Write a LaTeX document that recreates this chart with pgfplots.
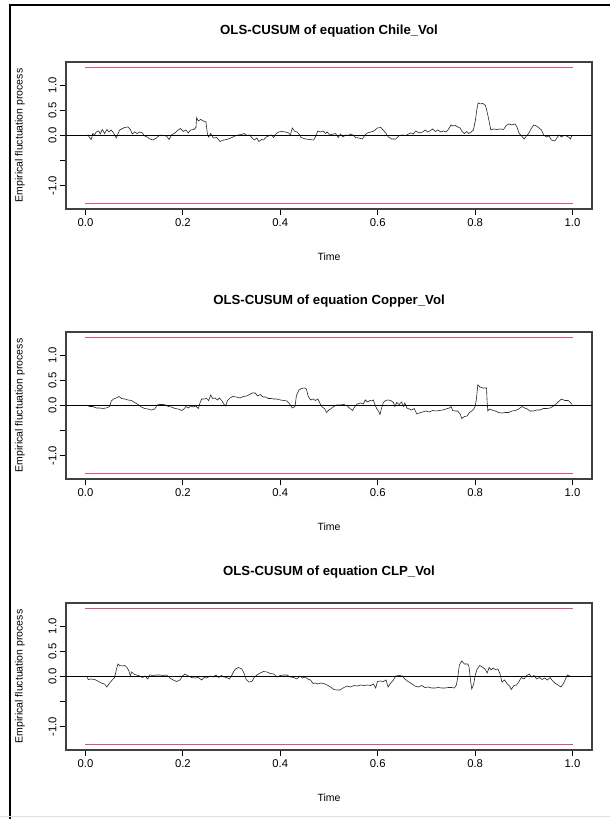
\documentclass[border=0pt]{standalone}
\usepackage{fontspec}
\setmainfont{Liberation Sans}
\usepackage{pgfplots}
\pgfplotsset{compat=1.18}
\definecolor{rred}{RGB}{223,83,107}

\pgfplotsset{cusum/.style={
  scale only axis, width=526pt, height=147pt, anchor=south west,
  xmin=-0.04, xmax=1.04, ymin=-1.467, ymax=1.467,
  xtick={0,0.2,0.4,0.6,0.8,1}, xticklabels={0.0,0.2,0.4,0.6,0.8,1.0},
  ytick={-1,-0.5,0,0.5,1}, yticklabels={-1.0,,0.0,0.5,1.0},
  tick align=outside, tick pos=left, major tick length=6pt,
  axis line style={draw=black!75, line width=1.1pt},
  every tick/.style={black, line width=0.8pt},
  tick label style={font=\fontsize{11.3}{13}\selectfont},
  yticklabel style={rotate=90, anchor=south},
  title style={at={(axis description cs:0.5,1.17)}, anchor=center,
    font=\bfseries\fontsize{13.2}{15}\selectfont},
  xlabel={Time}, ylabel={Empirical fluctuation process},
  xlabel style={at={(axis description cs:0.5,-0.3265)}, anchor=center,
    font=\fontsize{10.5}{12}\selectfont},
  ylabel style={at={(axis description cs:-0.0875,0.5)}, anchor=center,
    font=\fontsize{10.5}{12}\selectfont},
  bound/.style={rred, line width=1.7pt},
  /pgf/number format/assume math mode=true,
}}

\begin{document}
\begin{tikzpicture}
\path[use as bounding box] (0pt,0pt) rectangle (610pt,819pt);
\draw[black, line width=2pt] (10pt,0pt) -- (10pt,814pt) -- (610pt,814pt);
\draw[black!12, line width=1pt] (0pt,2.5pt) -- (610pt,2.5pt);

% panel 1
\begin{axis}[cusum, at={(66pt,610pt)}, title={OLS-CUSUM of equation Chile\_Vol}]
\addplot[black!85, line width=0.6pt] coordinates {
(0.0048,0.02)(0.0082,-0.04)(0.0117,-0.08)(0.0151,0.04)(0.0186,0.01)(0.0220,0.07)(0.0275,0.09)(0.0302,0.03)(0.0344,0.12)(0.0392,0.04)
(0.0440,0.12)(0.0481,0.07)(0.0529,0.11)(0.0577,0.05)(0.0632,-0.05)(0.0701,0.11)(0.0804,0.16)(0.0873,0.17)(0.0921,0.12)(0.0962,0.03)
(0.1010,0.07)(0.1058,0.04)(0.1113,0.07)(0.1168,0.05)(0.1216,-0.01)(0.1265,-0.03)(0.1320,-0.07)(0.1388,-0.09)(0.1457,-0.05)(0.1526,0.01)
(0.1595,0)(0.1663,-0.01)(0.1718,-0.08)(0.1766,0.01)(0.1835,0.05)(0.1904,0.11)(0.1952,0.14)(0.2007,0.08)(0.2062,0.11)(0.2110,0.05)
(0.2158,0.11)(0.2227,0.12)(0.2268,0.16)(0.2282,0.36)(0.2316,0.29)(0.2364,0.32)(0.2419,0.29)(0.2474,0.27)(0.2502,0.04)(0.2529,-0.03)
(0.2570,0.04)(0.2625,-0.05)(0.2694,-0.04)(0.2763,-0.12)(0.2832,-0.09)(0.2900,-0.08)(0.2983,-0.05)(0.3072,-0.01)(0.3141,0.01)(0.3210,0.02)
(0.3258,0.04)(0.3313,0)(0.3368,0.01)(0.3416,-0.04)(0.3464,-0.09)(0.3519,-0.05)(0.3560,-0.12)(0.3615,-0.08)(0.3656,-0.09)(0.3711,-0.03)
(0.3759,-0.01)(0.3821,0.01)(0.3863,-0.04)(0.3918,0.04)(0.3966,0.07)(0.4034,0.08)(0.4103,0.07)(0.4172,0.05)(0.4206,0.01)(0.4247,0.15)
(0.4289,0.09)(0.4344,0.07)(0.4399,0.01)(0.4426,-0.04)(0.4515,-0.07)(0.4605,-0.08)(0.4687,-0.09)(0.4722,-0.03)(0.4770,0.09)(0.4825,0.07)
(0.4880,0.09)(0.4928,0.04)(0.4962,0.07)(0.5017,0.01)(0.5134,0.04)(0.5189,-0.04)(0.5237,0.03)(0.5285,-0.03)(0.5340,0.01)(0.5395,0)
(0.5443,0.03)(0.5491,0.01)(0.5546,-0.04)(0.5615,-0.05)(0.5684,-0.07)(0.5739,0.01)(0.5787,0.05)(0.5856,0.07)(0.5924,0.09)(0.5993,0.15)
(0.6062,0.16)(0.6110,0.11)(0.6165,0.05)(0.6220,-0.03)(0.6289,-0.07)(0.6371,-0.07)(0.6440,0)(0.6509,0.01)(0.6577,0)(0.6632,0.03)
(0.6680,0.05)(0.6729,0.03)(0.6784,0.09)(0.6852,0.05)(0.6921,0.07)(0.6976,0.11)(0.7024,0.07)(0.7072,0.09)(0.7127,0.13)(0.7182,0.08)
(0.7230,0.11)(0.7299,0.07)(0.7347,0.09)(0.7402,0.07)(0.7457,0.13)(0.7505,0.21)(0.7540,0.19)(0.7595,0.20)(0.7643,0.17)(0.7691,0.15)
(0.7732,0.08)(0.7780,0.04)(0.7828,0.08)(0.7869,0.04)(0.7918,0.07)(0.7966,0.11)(0.8007,0.31)(0.8034,0.51)(0.8062,0.65)(0.8103,0.63)
(0.8158,0.64)(0.8213,0.60)(0.8254,0.44)(0.8296,0.24)(0.8323,0.11)(0.8378,0.13)(0.8447,0.12)(0.8515,0.13)(0.8584,0.12)(0.8639,0.20)
(0.8694,0.23)(0.8749,0.21)(0.8818,0.23)(0.8859,0.17)(0.8900,0.05)(0.8955,-0.01)(0.9010,-0.07)(0.9052,-0.01)(0.9107,0.05)(0.9148,0.13)
(0.9203,0.21)(0.9258,0.19)(0.9313,0.15)(0.9361,0.11)(0.9409,0.01)(0.9464,-0.03)(0.9519,-0.01)(0.9567,-0.09)(0.9636,-0.11)(0.9684,-0.04)
(0.9725,0.01)(0.9773,-0.03)(0.9821,0)(0.9876,-0.01)(0.9931,-0.04)(0.9959,-0.07)(0.9986,0)
};
\addplot[black, line width=0.9pt] coordinates {(-0.04,0)(1.04,0)};
\addplot[bound] coordinates {(0,1.358)(1,1.358)};
\addplot[bound] coordinates {(0,-1.358)(1,-1.358)};
\end{axis}

% panel 2
\begin{axis}[cusum, at={(66pt,340pt)}, title={OLS-CUSUM of equation Copper\_Vol}]
\addplot[black!85, line width=0.6pt] coordinates {
(0.0027,0.01)(0.0082,-0.02)(0.0151,-0.02)(0.0220,-0.05)(0.0289,-0.05)(0.0357,-0.06)(0.0426,-0.05)(0.0495,-0.02)(0.0529,0.09)(0.0577,0.13)
(0.0632,0.15)(0.0687,0.18)(0.0742,0.14)(0.0804,0.13)(0.0873,0.11)(0.0942,0.10)(0.1010,0.06)(0.1079,0.02)(0.1148,-0.03)(0.1216,-0.06)
(0.1285,-0.07)(0.1354,-0.09)(0.1423,-0.07)(0.1471,0.01)(0.1526,0.02)(0.1595,0.02)(0.1650,0.01)(0.1698,-0.02)(0.1766,-0.03)(0.1835,-0.06)
(0.1904,-0.07)(0.1973,-0.10)(0.2021,-0.07)(0.2062,-0.02)(0.2110,-0.05)(0.2158,-0.01)(0.2213,-0.03)(0.2268,-0.01)(0.2316,-0.06)(0.2351,0.05)
(0.2385,0.13)(0.2433,0.13)(0.2488,0.14)(0.2529,0.10)(0.2570,0.21)(0.2612,0.14)(0.2660,0.15)(0.2708,0.11)(0.2749,0.15)(0.2797,0.10)
(0.2845,0.02)(0.2880,-0.01)(0.2914,0.10)(0.2969,0.15)(0.3024,0.18)(0.3093,0.17)(0.3175,0.15)(0.3244,0.18)(0.3313,0.19)(0.3368,0.22)
(0.3423,0.25)(0.3485,0.25)(0.3533,0.19)(0.3588,0.22)(0.3643,0.17)(0.3698,0.17)(0.3753,0.14)(0.3808,0.14)(0.3863,0.13)(0.3931,0.13)
(0.4000,0.11)(0.4069,0.10)(0.4137,0.09)(0.4192,0.03)(0.4247,-0.05)(0.4302,-0.02)(0.4330,0.19)(0.4378,0.30)(0.4426,0.34)(0.4495,0.35)
(0.4536,0.33)(0.4570,0.19)(0.4619,0.11)(0.4674,0.13)(0.4722,0.10)(0.4770,0.13)(0.4811,0.05)(0.4859,-0.03)(0.4907,-0.06)(0.4948,-0.14)
(0.4997,-0.09)(0.5045,-0.06)(0.5100,-0.02)(0.5155,0.01)(0.5223,0.01)(0.5306,0.02)(0.5375,-0.01)(0.5430,-0.06)(0.5484,-0.10)(0.5526,-0.03)
(0.5581,0.03)(0.5649,0.05)(0.5704,0.03)(0.5746,0.11)(0.5787,0.07)(0.5842,0.10)(0.5883,0.09)(0.5911,0.11)(0.5938,0.03)(0.5979,-0.06)
(0.6014,-0.11)(0.6048,-0.18)(0.6076,-0.06)(0.6117,0.06)(0.6165,0.10)(0.6213,0.11)(0.6268,0.10)(0.6323,0.06)(0.6351,-0.02)(0.6392,0.06)
(0.6440,0.02)(0.6488,0.07)(0.6529,-0.02)(0.6557,0.05)(0.6598,-0.05)(0.6646,-0.07)(0.6694,-0.09)(0.6749,-0.06)(0.6804,-0.17)(0.6852,-0.15)
(0.6921,-0.13)(0.6990,-0.11)(0.7058,-0.13)(0.7127,-0.10)(0.7196,-0.11)(0.7265,-0.10)(0.7333,-0.09)(0.7402,-0.07)(0.7471,-0.05)(0.7505,-0.02)
(0.7540,-0.10)(0.7588,-0.11)(0.7643,-0.11)(0.7698,-0.18)(0.7725,-0.26)(0.7780,-0.22)(0.7835,-0.21)(0.7883,-0.14)(0.7931,-0.11)(0.7972,-0.07)
(0.8000,-0.02)(0.8027,0.13)(0.8055,0.41)(0.8096,0.37)(0.8158,0.35)(0.8234,0.35)(0.8247,0.07)(0.8261,-0.11)(0.8289,-0.07)(0.8344,-0.09)
(0.8412,-0.11)(0.8481,-0.14)(0.8550,-0.15)(0.8619,-0.14)(0.8687,-0.14)(0.8756,-0.11)(0.8825,-0.10)(0.8893,-0.07)(0.8962,-0.02)(0.9017,-0.05)
(0.9072,-0.07)(0.9127,-0.11)(0.9196,-0.11)(0.9265,-0.09)(0.9333,-0.09)(0.9402,-0.06)(0.9471,-0.06)(0.9540,-0.05)(0.9595,-0.02)(0.9650,0.02)
(0.9705,0.07)(0.9773,0.13)(0.9842,0.10)(0.9911,0.10)(0.9966,0.05)(0.9993,0.02)
};
\addplot[black, line width=0.9pt] coordinates {(-0.04,0)(1.04,0)};
\addplot[bound] coordinates {(0,1.358)(1,1.358)};
\addplot[bound] coordinates {(0,-1.358)(1,-1.358)};
\end{axis}

% panel 3
\begin{axis}[cusum, at={(66pt,69pt)}, title={OLS-CUSUM of equation CLP\_Vol}]
\addplot[black!85, line width=0.6pt] coordinates {
(0.0027,0.01)(0.0055,-0.06)(0.0117,-0.05)(0.0186,-0.06)(0.0254,-0.09)(0.0323,-0.13)(0.0392,-0.15)(0.0440,-0.21)(0.0495,-0.13)(0.0550,-0.07)
(0.0598,-0.02)(0.0632,0.13)(0.0667,0.25)(0.0701,0.22)(0.0756,0.21)(0.0811,0.22)(0.0852,0.18)(0.0893,0.11)(0.0921,0.01)(0.0948,0.09)
(0.0990,0.05)(0.1045,0.03)(0.1113,0.01)(0.1168,-0.02)(0.1223,0.01)(0.1278,-0.05)(0.1320,0.03)(0.1388,0.02)(0.1457,0.03)(0.1526,0.03)
(0.1595,0.02)(0.1663,0.03)(0.1732,-0.03)(0.1801,-0.07)(0.1869,-0.10)(0.1938,-0.07)(0.1993,0.01)(0.2041,0.05)(0.2110,0.01)(0.2179,-0.02)
(0.2247,-0.03)(0.2316,-0.02)(0.2385,-0.07)(0.2433,-0.02)(0.2488,-0.03)(0.2557,0.01)(0.2625,-0.01)(0.2680,0.03)(0.2735,-0.02)(0.2790,0.02)
(0.2845,-0.01)(0.2900,-0.02)(0.2955,-0.05)(0.2997,0.01)(0.3038,0.09)(0.3079,0.15)(0.3141,0.18)(0.3210,0.15)(0.3258,0.06)(0.3299,-0.06)
(0.3354,-0.11)(0.3416,-0.10)(0.3464,-0.02)(0.3519,0.03)(0.3588,0.07)(0.3656,0.10)(0.3725,0.09)(0.3794,0.06)(0.3863,0.05)(0.3931,-0.01)
(0.4000,0.02)(0.4069,0.03)(0.4137,0.03)(0.4206,-0.01)(0.4275,-0.02)(0.4344,-0.05)(0.4399,0.01)(0.4454,-0.03)(0.4515,-0.01)(0.4564,-0.05)
(0.4619,-0.07)(0.4674,-0.14)(0.4722,-0.13)(0.4770,-0.15)(0.4825,-0.13)(0.4893,-0.14)(0.4962,-0.17)(0.5031,-0.21)(0.5100,-0.26)(0.5168,-0.27)
(0.5223,-0.27)(0.5306,-0.22)(0.5375,-0.19)(0.5443,-0.21)(0.5512,-0.18)(0.5581,-0.19)(0.5649,-0.17)(0.5718,-0.18)(0.5787,-0.17)(0.5856,-0.18)
(0.5911,-0.15)(0.5959,-0.23)(0.5993,-0.10)(0.6048,-0.09)(0.6117,-0.10)(0.6172,-0.07)(0.6213,-0.21)(0.6268,-0.13)(0.6323,-0.07)(0.6371,0.01)
(0.6440,0.02)(0.6509,0.01)(0.6557,-0.05)(0.6625,-0.10)(0.6694,-0.14)(0.6763,-0.19)(0.6832,-0.21)(0.6900,-0.18)(0.6969,-0.22)(0.7038,-0.21)
(0.7107,-0.23)(0.7175,-0.23)(0.7244,-0.22)(0.7313,-0.23)(0.7381,-0.23)(0.7450,-0.22)(0.7519,-0.22)(0.7574,-0.23)(0.7615,-0.17)(0.7643,-0.02)
(0.7677,0.23)(0.7725,0.31)(0.7780,0.25)(0.7849,0.25)(0.7876,0.19)(0.7904,-0.06)(0.7931,-0.25)(0.7972,-0.15)(0.8000,0.02)(0.8041,0.15)
(0.8096,0.22)(0.8158,0.18)(0.8206,0.15)(0.8247,0.07)(0.8289,0.18)(0.8330,0.13)(0.8371,0.17)(0.8412,0.14)(0.8467,0.15)(0.8509,0.06)
(0.8550,-0.11)(0.8605,-0.07)(0.8660,-0.15)(0.8708,-0.19)(0.8742,-0.26)(0.8797,-0.18)(0.8852,-0.17)(0.8907,-0.09)(0.8948,-0.02)(0.9003,-0.05)
(0.9058,0.02)(0.9113,0.05)(0.9155,-0.01)(0.9210,0.02)(0.9265,-0.05)(0.9319,-0.02)(0.9374,-0.06)(0.9429,-0.03)(0.9484,-0.07)(0.9539,-0.02)
(0.9594,-0.09)(0.9649,-0.14)(0.9704,-0.17)(0.9759,-0.21)(0.9814,-0.14)(0.9855,-0.05)(0.9896,0.03)(0.9937,0.01)(0.9979,0)
};
\addplot[black, line width=0.9pt] coordinates {(-0.04,0)(1.04,0)};
\addplot[bound] coordinates {(0,1.358)(1,1.358)};
\addplot[bound] coordinates {(0,-1.358)(1,-1.358)};
\end{axis}
\end{tikzpicture}
\end{document}
